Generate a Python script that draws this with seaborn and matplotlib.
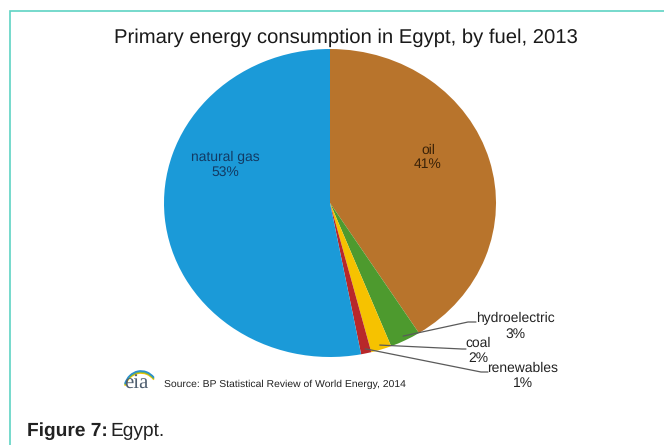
import matplotlib
matplotlib.use('Agg')
import matplotlib.pyplot as plt
import seaborn as sns
import numpy as np
from matplotlib.patches import Rectangle, Arc

# Datos del grafico
fuels = ['oil', 'hydroelectric', 'coal', 'renewables', 'natural gas']
shares = [41, 3, 2, 1, 53]
colors = ['#b8742c', '#4d9a2e', '#f6c200', '#b8282a', '#1b9ad8']

sns.set_theme(style='white')
plt.rcParams['font.family'] = ['Liberation Sans', 'DejaVu Sans']
plt.rcParams['text.hinting'] = 'no_hinting'

W, H = 664, 445
fig = plt.figure(figsize=(W / 100, H / 100), dpi=100)

# centro y radios del pastel (en pixeles)
cx, cy, rx, ry = 330, 203, 166, 154
ax = fig.add_axes([(cx - rx) / W, (H - cy - ry) / H, 2 * rx / W, 2 * ry / H])
ax.pie(shares, colors=colors, startangle=90, counterclock=False,
       wedgeprops=dict(linewidth=0))
ax.set_aspect('auto')
ax.set_xlim(-1, 1)
ax.set_ylim(-1, 1)
ax.axis('off')


def px(x, y):
    return (x - cx) / rx, (cy - y) / ry


# etiquetas internas
ax.text(*px(225, 165), 'natural gas\n53%', ha='center', va='center',
        fontsize=10, color='#133a63', linespacing=1.1)
ax.text(*px(428, 157), 'oil\n41%', ha='center', va='center',
        fontsize=10, color='#3a2208', linespacing=1.1)

# lineas guia para los sectores pequenos
cum = np.cumsum([0] + shares)
mid = {f: 90 - (cum[i] + shares[i] / 2) * 3.6 for i, f in enumerate(fuels)}
leaders = {
    'hydroelectric': ((468, 322), (476, 322), (515, 326)),
    'coal': ((462, 349), (466, 349), (478, 351)),
    'renewables': ((481, 372), (488, 372), (523, 376)),
}
for f, (elbow, end, lab) in leaders.items():
    a = np.deg2rad(mid[f])
    p0 = (np.cos(a) * 0.97, np.sin(a) * 0.97)
    xs = [p0[0], px(*elbow)[0], px(*end)[0]]
    ys = [p0[1], px(*elbow)[1], px(*end)[1]]
    ax.plot(xs, ys, color='#5a5a5a', lw=0.9, clip_on=False)
    pct = shares[fuels.index(f)]
    ax.text(*px(*lab), f'{f}\n{pct}%', ha='center', va='center',
            fontsize=10, color='#222222', linespacing=1.25, clip_on=False)

# titulo
fig.text(346 / W, 1 - 38 / H, 'Primary energy consumption in Egypt, by fuel, 2013',
         ha='center', va='center', fontsize=14.6, color='#1a1a1a')

# logo eia y fuente
fig.text(124 / W, 1 - 384 / H, 'eia', ha='left', va='center', fontsize=15,
         family='Liberation Serif', color='#4f5f70')
for i, c in enumerate(['#f2c200', '#7ab648', '#2a8fcf']):
    arc = Arc((141 / W, 1 - (392 - i) / H), 34 / W, 38 / H, theta1=55, theta2=150,
              transform=fig.transFigure, color=c, lw=1.2)
    fig.add_artist(arc)
fig.text(164 / W, 1 - 384 / H, 'Source: BP Statistical Review of World Energy, 2014',
         ha='left', va='center', fontsize=7.5, color='#222222')

# marco
fig.add_artist(Rectangle((10 / W, -0.1), 1.0, 1 - 11 / H + 0.1,
                         transform=fig.transFigure, fill=False,
                         edgecolor='#5fd3c4', lw=1.2))

# pie de figura
fig.text(27 / W, 1 - 431 / H, 'Figure 7:', ha='left', va='center',
         fontsize=13.8, fontweight='bold', color='#222222')
fig.text(110 / W, 1 - 431 / H, 'Egypt.', ha='left', va='center',
         fontsize=13.8, color='#222222')

fig.savefig('out.png', dpi=100)
